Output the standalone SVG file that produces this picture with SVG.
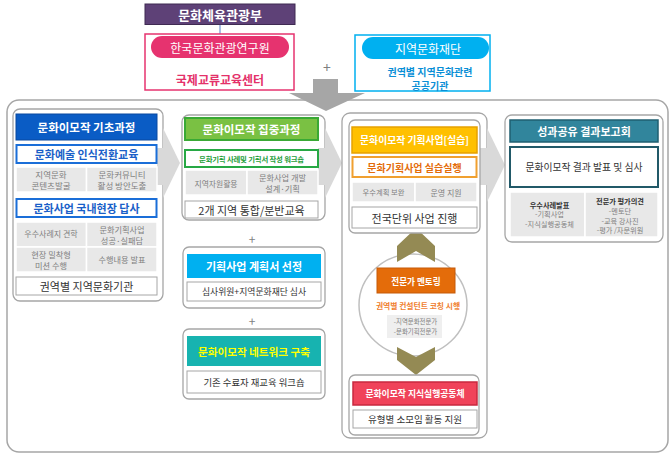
<svg xmlns="http://www.w3.org/2000/svg" width="672" height="459" viewBox="0 0 672 459">
<style>
text{font-family:"Noto Sans CJK KR","Noto Sans",sans-serif;text-anchor:middle;dominant-baseline:central}
.b{font-weight:bold}
.col{fill:#fff;stroke:#a6a6a6;stroke-width:1.3}
.wb{fill:#fff;stroke:#a6a6a6;stroke-width:1}
.cell{fill:#e8e8e8;stroke:#fff;stroke-width:1.5}
.ct{fill:#7f7f7f}
.dk{fill:#333}
.plus{fill:#7f7f7f;font-size:14px}
.garrow{fill:#d9d9d9}
.chev{fill:#948a54}
</style>

<g id="outer-container">
<rect x="7" y="100" width="661" height="352" rx="12" fill="#fff" stroke="#a6a6a6" stroke-width="1.5"/>
</g>

<g id="connectors">
<line x1="220" y1="24" x2="220" y2="34" stroke="#8eaadb" stroke-width="1.5"/>
<text class="plus" x="327" y="67">+</text>
<polygon fill="#a6a6a6" points="313,79 338,79 338,93 365,93 326,111 289,93 313,93"/>
<text class="plus" x="252" y="238" style="font-size:12px">+</text>
<text class="plus" x="252" y="320" style="font-size:12px">+</text>
</g>

<g id="ministry">
<rect x="145" y="4" width="150" height="20.5" fill="#5e4177" stroke="#3f2a52" stroke-width="1"/>
<text class="b" x="220" y="14.5" fill="#fff" font-size="13">문화체육관광부</text>
</g>

<g id="kcti">
<rect x="145" y="34" width="149" height="56" fill="#fff" stroke="#e6336f" stroke-width="1.5"/>
<rect x="151" y="36" width="138" height="22" rx="11" fill="#e6336f"/>
<text x="220" y="47" fill="#fff" font-size="12">한국문화관광연구원</text>
<text class="b" x="220" y="79" fill="#e4316a" font-size="12">국제교류교육센터</text>
</g>

<g id="regional-foundation">
<rect x="355" y="35" width="135" height="56" fill="#fff" stroke="#00b0f0" stroke-width="1.5"/>
<rect x="362" y="37" width="127" height="22" rx="11" fill="#00b0f0"/>
<text x="428" y="48" fill="#fff" font-size="12">지역문화재단</text>
<text class="b" x="430" y="71.5" fill="#0a8fd6" font-size="10">권역별 지역문화관련</text>
<text class="b" x="430" y="85" fill="#0a8fd6" font-size="10">공공기관</text>
</g>

<g id="col1-basic">
<rect class="col" x="13" y="109" width="150" height="192" rx="7"/>
<rect class="garrow" x="157" y="148" width="6" height="37"/>
<polygon class="garrow" points="163,128 180,163 163,198"/>
<rect x="16" y="114" width="141" height="26" fill="#0a5cc5" stroke="#0848a0" stroke-width="1"/>
<text class="b" x="86.5" y="127" fill="#fff" font-size="11.5">문화이모작 기초과정</text>
<rect x="16.5" y="145" width="140" height="18" fill="#fff" stroke="#1a6ed8" stroke-width="2"/>
<text class="b" x="86.5" y="154" fill="#1a5fc8" font-size="11">문화예술 인식전환교육</text>
<rect class="cell" x="16" y="167" width="70.5" height="25"/>
<rect class="cell" x="86.5" y="167" width="70.5" height="25"/>
<text class="ct" x="51" y="173.5" font-size="8.5">지역문화</text>
<text class="ct" x="51" y="185.3" font-size="8.5">콘텐츠발굴</text>
<text class="ct" x="122" y="173.5" font-size="8.5">문화커뮤니티</text>
<text class="ct" x="122" y="185.3" font-size="8.5">활성 방안도출</text>
<rect x="16.5" y="199" width="140" height="18" fill="#fff" stroke="#1a6ed8" stroke-width="2"/>
<text class="b" x="86.5" y="208" fill="#1a5fc8" font-size="11">문화사업 국내현장 답사</text>
<rect class="cell" x="16" y="222" width="70.5" height="25"/>
<rect class="cell" x="86.5" y="222" width="70.5" height="25"/>
<rect class="cell" x="16" y="247" width="70.5" height="25"/>
<rect class="cell" x="86.5" y="247" width="70.5" height="25"/>
<text class="ct" x="51" y="233" font-size="8">우수사례지 견학</text>
<text class="ct" x="122" y="228.8" font-size="8.2">문화기획사업</text>
<text class="ct" x="122" y="240.2" font-size="8.2">성공·실패담</text>
<text class="ct" x="51" y="253.6" font-size="8.2">현장 밀착형</text>
<text class="ct" x="51" y="265" font-size="8.2">미션 수행</text>
<text class="ct" x="122" y="259" font-size="8.2">수행내용 발표</text>
<rect class="wb" x="16" y="277" width="141" height="18"/>
<text class="dk" x="86.5" y="286" font-size="11">권역별 지역문화기관</text>
</g>

<g id="col2-intensive">
<rect class="col" x="182" y="115" width="143" height="105" rx="7"/>
<rect class="garrow" x="318" y="148" width="7" height="37"/>
<polygon class="garrow" points="325,128 342,163 325,198"/>
<rect x="185" y="118" width="133" height="22" fill="#7ac143" stroke="#3aa935" stroke-width="2"/>
<text class="b" x="251.5" y="129" fill="#fff" font-size="11.5">문화이모작 집중과정</text>
<rect x="185" y="150" width="133" height="17" fill="#fff" stroke="#27a844" stroke-width="2"/>
<text class="b" x="251.5" y="158.5" fill="#1e9e3a" font-size="7.4" letter-spacing="-0.2">문화기획 사례및 기획서 작성 워크숍</text>
<rect class="cell" x="185" y="170" width="62" height="25"/>
<rect class="cell" x="247" y="170" width="71" height="25"/>
<text class="ct" x="216" y="183" font-size="7.8">지역자원활용</text>
<text class="ct" x="282.5" y="176.8" font-size="8.2">문화사업 개발</text>
<text class="ct" x="282.5" y="188.2" font-size="8.2">설계·기획</text>
<rect class="wb" x="185" y="201" width="133" height="17"/>
<text class="dk" x="251.5" y="209.5" font-size="11">2개 지역 통합/분반교육</text>
</g>

<g id="col2-selection">
<rect class="col" x="183" y="247" width="142" height="61" rx="6"/>
<rect x="187" y="254" width="134" height="24" fill="#00b0f0"/>
<text class="b" x="254" y="266" fill="#fff" font-size="11">기획사업 계획서 선정</text>
<rect class="wb" x="187" y="282" width="134" height="19"/>
<text class="dk" x="254" y="291.5" font-size="8.8">심사위원+지역문화재단 심사</text>
</g>

<g id="col2-network">
<rect class="col" x="183" y="329" width="142" height="70" rx="6"/>
<rect x="187" y="336" width="134" height="30" fill="#17b3b0"/>
<text class="b" x="254" y="351" fill="#ffff00" font-size="10.6">문화이모작 네트워크 구축</text>
<rect class="wb" x="187" y="371" width="134" height="22"/>
<text class="dk" x="254" y="382" font-size="9.4">기존 수료자 재교육 워크숍</text>
</g>

<g id="col3-project">
<rect class="col" x="342" y="113" width="145" height="325" rx="8"/>
<rect class="garrow" x="480" y="148" width="7" height="37"/>
<polygon class="garrow" points="487,128 505,165 487,202"/>
<ellipse cx="413" cy="305" rx="54" ry="51" fill="#fff" stroke="#bfbfbf" stroke-width="1.5"/>
<polygon class="chev" points="397,246 416,228 435,246 435,262 416,251 397,262"/>
<polygon class="chev" points="397,347 416,357 435,347 435,360 416,375 397,360"/>
<rect class="col" x="349" y="120" width="131" height="113" rx="6"/>
<rect x="352" y="127" width="125" height="26" fill="#ffc000" stroke="#e6a100" stroke-width="1.5"/>
<text class="b" x="414.5" y="140" fill="#fff" font-size="9.8">문화이모작 기획사업[실습]</text>
<rect x="352.5" y="157" width="124" height="20" fill="#fff" stroke="#f0a030" stroke-width="2"/>
<text class="b" x="414.5" y="167" fill="#e46c0a" font-size="10">문화기획사업 실습실행</text>
<rect class="cell" x="352" y="182" width="63" height="20"/>
<rect class="cell" x="415" y="182" width="62" height="20"/>
<text class="ct" x="383.5" y="192" font-size="7.3">우수계획 보완</text>
<text class="ct" x="446" y="192" font-size="8">운영 지원</text>
<rect class="wb" x="352" y="207" width="125" height="21"/>
<text class="dk" x="414.5" y="217.5" font-size="11">전국단위 사업 진행</text>
</g>

<g id="col3-mentoring">
<rect x="377" y="268" width="78" height="25" fill="#e46c0a" stroke="#c55a08" stroke-width="1"/>
<text class="b" x="416" y="280.5" fill="#fff" font-size="8.6">전문가 멘토링</text>
<text class="b" x="418" y="305" fill="#f08030" font-size="7.8">권역별 컨설턴트 코칭 시행</text>
<rect x="387" y="315" width="55" height="23" fill="#efefef"/>
<text class="ct" x="415.5" y="321.5" font-size="6.4">-지역문화전문가</text>
<text class="ct" x="415.5" y="331.5" font-size="6.4">-문화기획전문가</text>
</g>

<g id="col3-community">
<rect class="col" x="349" y="375" width="130" height="60" rx="6"/>
<rect x="353" y="382" width="124" height="23" fill="#f0435a" stroke="#c8283f" stroke-width="1.5"/>
<text class="b" x="415" y="393.5" fill="#fff" font-size="8.8">문화이모작 지식실행공동체</text>
<rect class="wb" x="353" y="410" width="124" height="18"/>
<text class="dk" x="415" y="419" font-size="9.5">유형별 소모임 활동 지원</text>
</g>

<g id="col4-report">
<rect class="col" x="505" y="115" width="158" height="127" rx="7"/>
<rect x="510" y="120" width="148" height="22" fill="#31859c" stroke="#1f5f70" stroke-width="1.5"/>
<text class="b" x="584" y="131" fill="#fff" font-size="11">성과공유 결과보고회</text>
<rect x="510" y="147" width="148" height="40" fill="#fff" stroke="#215968" stroke-width="2"/>
<text class="dk" x="584" y="167" font-size="9.8">문화이모작 결과 발표 및 심사</text>
<rect class="cell" x="510" y="192" width="75" height="45"/>
<rect class="cell" x="585" y="192" width="73" height="45"/>
<text class="b dk" x="549.5" y="204.5" font-size="7.2">우수사례발표</text>
<text class="ct" x="549.5" y="214.3" font-size="7.2">-기획사업</text>
<text class="ct" x="549.5" y="224.1" font-size="7.2">-지식실행공동체</text>
<text class="b dk" x="620" y="201" font-size="7.2">전문가 평가의견</text>
<text class="ct" x="620" y="210.8" font-size="7.2">-멘토단</text>
<text class="ct" x="620" y="220.6" font-size="7.2">-교육 강사진</text>
<text class="ct" x="620" y="230.4" font-size="7.2">-평가 /자문위원</text>
</g>
</svg>
